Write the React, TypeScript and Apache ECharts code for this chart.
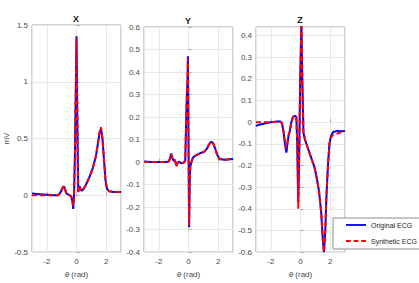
import React, { useEffect, useRef } from "react";
import * as echarts from "echarts";

// θ (rad), mV
const xOriginal: [number, number][] = [
  [-3, 0.015], [-2.5, 0.01], [-2, 0.005], [-1.5, 0.0], [-1.25, 0.0], [-1.1, 0.02], [-0.95, 0.06],
  [-0.86, 0.08], [-0.78, 0.06], [-0.7, 0.02], [-0.6, 0.01], [-0.45, 0.0], [-0.35, -0.01],
  [-0.28, -0.05], [-0.22, -0.12], [-0.17, -0.02], [-0.1, 0.4], [-0.05, 0.9], [0, 1.4], [0.04, 0.9],
  [0.08, 0.4], [0.12, 0.03], [0.18, 0.06], [0.22, 0.08], [0.28, 0.05], [0.35, 0.04], [0.5, 0.06],
  [0.7, 0.11], [0.9, 0.17], [1.1, 0.24], [1.3, 0.34], [1.45, 0.46], [1.55, 0.55], [1.65, 0.59],
  [1.75, 0.5], [1.85, 0.32], [1.95, 0.14], [2.05, 0.06], [2.2, 0.035], [2.5, 0.03], [3, 0.03],
];
const xSynthetic: [number, number][] = [
  [-3, 0.0], [-2.5, 0.0], [-2, 0.0], [-1.5, 0.0], [-1.25, 0.0], [-1.1, 0.02], [-0.95, 0.06],
  [-0.86, 0.085], [-0.78, 0.06], [-0.7, 0.02], [-0.6, 0.01], [-0.45, 0.0], [-0.35, -0.01],
  [-0.28, -0.04], [-0.22, -0.09], [-0.17, -0.02], [-0.1, 0.4], [-0.05, 0.9], [0, 1.38], [0.04, 0.9],
  [0.08, 0.4], [0.12, 0.03], [0.18, 0.05], [0.22, 0.07], [0.28, 0.05], [0.35, 0.04], [0.5, 0.06],
  [0.7, 0.11], [0.9, 0.17], [1.1, 0.24], [1.3, 0.34], [1.45, 0.46], [1.55, 0.55], [1.65, 0.6],
  [1.75, 0.5], [1.85, 0.32], [1.95, 0.14], [2.05, 0.06], [2.2, 0.035], [2.5, 0.03], [3, 0.03],
];
const yOriginal: [number, number][] = [
  [-3, 0.002], [-2.5, 0.0], [-2, 0.0], [-1.5, 0.0], [-1.32, 0.003], [-1.25, 0.015], [-1.17, 0.038],
  [-1.1, 0.02], [-1.0, 0.005], [-0.92, 0.01], [-0.85, -0.005], [-0.8, -0.018], [-0.75, -0.005],
  [-0.65, 0.002], [-0.5, -0.005], [-0.35, -0.004], [-0.22, 0.005], [-0.15, 0.2], [-0.1, 0.32],
  [-0.07, 0.35], [-0.04, 0.47], [-0.01, 0.2], [0.02, -0.1], [0.04, -0.29], [0.08, -0.1],
  [0.12, -0.02], [0.2, 0.0], [0.3, 0.02], [0.5, 0.03], [0.8, 0.04], [1.05, 0.045], [1.25, 0.06],
  [1.4, 0.08], [1.52, 0.09], [1.65, 0.085], [1.8, 0.06], [1.95, 0.03], [2.1, 0.015], [2.4, 0.01],
  [3, 0.014],
];
const ySynthetic: [number, number][] = [
  [-3, 0.0], [-2.5, 0.0], [-2, 0.0], [-1.5, 0.0], [-1.32, 0.003], [-1.25, 0.015], [-1.17, 0.035],
  [-1.1, 0.02], [-1.0, 0.005], [-0.92, 0.008], [-0.85, -0.008], [-0.8, -0.02], [-0.75, -0.005],
  [-0.65, 0.0], [-0.5, -0.004], [-0.35, -0.004], [-0.22, 0.005], [-0.15, 0.2], [-0.1, 0.31],
  [-0.07, 0.34], [-0.04, 0.46], [-0.01, 0.2], [0.02, -0.1], [0.04, -0.28], [0.08, -0.1],
  [0.12, -0.02], [0.2, 0.0], [0.3, 0.02], [0.5, 0.03], [0.8, 0.04], [1.05, 0.045], [1.25, 0.06],
  [1.4, 0.08], [1.52, 0.09], [1.65, 0.085], [1.8, 0.06], [1.95, 0.025], [2.1, 0.012], [2.4, 0.01],
  [3, 0.014],
];
const zOriginal: [number, number][] = [
  [-3, -0.017], [-2.7, -0.01], [-2.3, -0.004], [-2, 0.0], [-1.6, 0.003], [-1.35, 0.003],
  [-1.25, -0.005], [-1.15, -0.04], [-1.05, -0.1], [-0.95, -0.14], [-0.88, -0.1], [-0.8, -0.06],
  [-0.72, -0.04], [-0.62, 0.0], [-0.5, 0.025], [-0.38, 0.03], [-0.28, 0.025], [-0.22, -0.1],
  [-0.15, -0.37], [-0.1, -0.2], [-0.02, 0.2], [0.06, 0.46], [0.12, 0.2], [0.2, -0.05], [0.3, -0.08],
  [0.45, -0.11], [0.6, -0.14], [0.8, -0.18], [0.95, -0.21], [1.1, -0.26], [1.25, -0.32], [1.4, -0.42],
  [1.5, -0.54], [1.58, -0.6], [1.67, -0.5], [1.75, -0.34], [1.85, -0.2], [1.95, -0.1], [2.05, -0.065],
  [2.2, -0.045], [2.5, -0.04], [2.8, -0.042], [3, -0.04],
];
const zSynthetic: [number, number][] = [
  [-3, 0.0], [-2.7, 0.0], [-2.3, 0.0], [-2, 0.0], [-1.6, 0.002], [-1.35, 0.002],
  [-1.25, -0.005], [-1.15, -0.04], [-1.05, -0.09], [-0.95, -0.12], [-0.88, -0.09], [-0.8, -0.06],
  [-0.72, -0.04], [-0.62, 0.0], [-0.5, 0.025], [-0.38, 0.03], [-0.28, 0.025], [-0.22, -0.1],
  [-0.15, -0.4], [-0.1, -0.2], [-0.02, 0.2], [0.06, 0.46], [0.12, 0.2], [0.2, -0.05], [0.3, -0.08],
  [0.45, -0.11], [0.6, -0.14], [0.8, -0.18], [0.95, -0.21], [1.1, -0.26], [1.25, -0.32], [1.4, -0.42],
  [1.5, -0.54], [1.58, -0.6], [1.67, -0.5], [1.75, -0.34], [1.85, -0.2], [1.95, -0.1], [2.05, -0.07],
  [2.2, -0.058], [2.5, -0.052], [2.8, -0.045], [3, -0.04],
];

const panelTitles = ["X", "Y", "Z"];
const seriesNames = ["Original ECG", "Synthetic ECG"];
const yRanges = [
  { min: -0.5, max: 1.5, interval: 0.5 },
  { min: -0.4, max: 0.6, interval: 0.1 },
  { min: -0.6, max: 0.44, interval: 0.1 },
];

export default function App() {
  const ref = useRef<HTMLDivElement>(null);
  useEffect(() => {
    document.body.style.margin = "0";
    const chart = echarts.init(ref.current!, null, { renderer: "svg" });
    const font = "'Liberation Sans', Arial, Helvetica, sans-serif";
    const labelColor = "#4a4a4a";
    const frame = "#a6a6a6";
    const grids = [
      { left: 32, top: 25, width: 89, height: 232 },
      { left: 144, top: 27, width: 89, height: 232 },
      { left: 256, top: 27, width: 89, height: 231 },
    ];
    const original = [xOriginal, yOriginal, zOriginal];
    const synthetic = [xSynthetic, ySynthetic, zSynthetic];

    const xAxes = grids.map((_, i) => ({
      type: "value",
      gridIndex: i,
      min: -3,
      max: 3,
      splitNumber: 3,
      name: "{i|θ} (rad)",
      nameLocation: "middle",
      nameGap: 13,
      nameTextStyle: {
        fontSize: 8,
        color: labelColor,
        fontFamily: font,
        rich: { i: { fontStyle: "italic", fontSize: 8, color: labelColor, fontFamily: font } },
      },
      axisLine: { show: false },
      axisTick: { show: true, inside: true, length: 3, lineStyle: { color: frame } },
      axisLabel: {
        fontSize: 8,
        color: labelColor,
        fontFamily: font,
        margin: 5,
        showMinLabel: false,
        showMaxLabel: false,
      },
      splitLine: { show: true, lineStyle: { color: "#e8e8e8", width: 1 } },
    }));
    const yAxes = grids.map((_, i) => ({
      type: "value",
      gridIndex: i,
      min: yRanges[i].min,
      max: yRanges[i].max,
      interval: yRanges[i].interval,
      name: i === 0 ? "mV" : "",
      nameLocation: "middle",
      nameGap: 19,
      nameTextStyle: { fontSize: 8, color: labelColor, fontFamily: font },
      axisLine: { show: false },
      axisTick: { show: true, inside: true, length: 3, lineStyle: { color: frame } },
      axisLabel: {
        fontSize: 8,
        color: labelColor,
        fontFamily: font,
        margin: 4,
        showMaxLabel: i === 2 ? false : true,
      },
      splitLine: { show: true, lineStyle: { color: "#e8e8e8", width: 1 } },
    }));

    const series: any[] = [];
    grids.forEach((_, i) => {
      series.push({
        type: "line",
        name: seriesNames[0],
        xAxisIndex: i,
        yAxisIndex: i,
        data: original[i],
        symbol: "none",
        lineStyle: { color: "#0000ff", width: 2 },
        itemStyle: { color: "#0000ff" },
        z: 2,
      });
      series.push({
        type: "line",
        name: seriesNames[1],
        xAxisIndex: i,
        yAxisIndex: i,
        data: synthetic[i],
        symbol: "none",
        lineStyle: { color: "#ff0000", width: 2, type: [5, 3] },
        itemStyle: { color: "#ff0000" },
        z: 3,
      });
    });

    const titleCenters = [
      [76, 19],
      [188, 21],
      [300, 20],
    ];

    chart.setOption({
      animation: false,
      backgroundColor: "#ffffff",
      grid: grids.map((g) => ({
        ...g,
        show: true,
        borderColor: frame,
        borderWidth: 1,
        backgroundColor: "#ffffff",
        containLabel: false,
      })),
      xAxis: xAxes,
      yAxis: yAxes,
      legend: {
        data: [
          { name: seriesNames[0], icon: "path://M0,0H22V2H0Z" },
          {
            name: seriesNames[1],
            icon: "path://M0,0H5V2H0Z M8,0H13V2H8Z M16,0H21V2H16Z",
          },
        ],
        orient: "vertical",
        left: 333,
        top: 218,
        itemWidth: 20,
        itemHeight: 2,
        itemGap: 6,
        padding: [2, 8, 3, 13],
        backgroundColor: "#ffffff",
        borderColor: "#8c8c8c",
        borderWidth: 1,
        borderRadius: 0,
        textStyle: { fontSize: 7, color: "#262626", fontFamily: font, lineHeight: 10 },
        z: 10,
      },
      graphic: panelTitles.map((t, i) => ({
        type: "text",
        x: titleCenters[i][0],
        y: titleCenters[i][1],
        style: {
          text: t,
          fontSize: 9,
          fontWeight: "bold",
          fill: "#1a1a1a",
          fontFamily: font,
          textAlign: "center",
          textVerticalAlign: "middle",
        },
      })),
      series,
    });
    return () => chart.dispose();
  }, []);
  return <div ref={ref} style={{ width: 419, height: 283 }} />;
}
